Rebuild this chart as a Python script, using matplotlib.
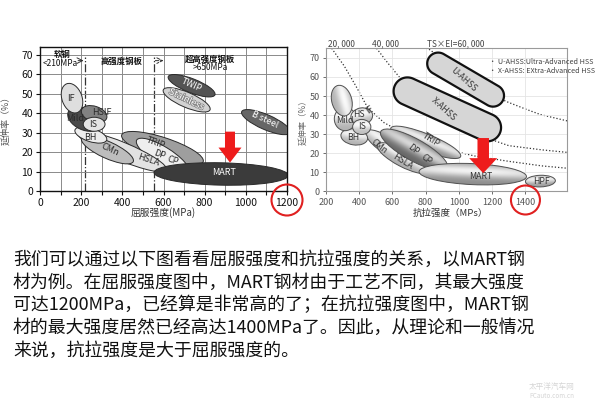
import numpy as np
import matplotlib
matplotlib.use('Agg')
import matplotlib.pyplot as plt
from matplotlib.patches import Ellipse, Circle, FancyArrow, PathPatch
from matplotlib.path import Path
from matplotlib.transforms import Affine2D
import matplotlib.patheffects as pe

plt.rcParams['font.family'] = ['Noto Sans CJK SC', 'DejaVu Sans']

# ---------------- yield-strength chart (left) ----------------
ys_names = ['TRIP', 'DP-CP', 'HSLA', 'CMn', 'MART', 'BH', 'Mild', 'HSIF', 'IF', 'IS', 'TWIP', 'Stainless', 'B steel']
ys_x1 = [397, 470, 186, 202, 554, 170, 138, 202, 130, 210, 623, 599, 980]
ys_y1 = [28.8, 26.2, 29.7, 27.1, 9.5, 31.4, 40.8, 41.7, 55.1, 34.3, 58.8, 52.0, 40.8]
ys_x2 = [793, 721, 615, 453, 1206, 324, 291, 324, 181, 316, 850, 826, 1215]
ys_y2 = [15.1, 9.9, 10.8, 15.1, 8.0, 26.2, 33.1, 37.4, 40.3, 34.3, 49.4, 41.7, 30.0]
ys_thick = [11.1, 9.4, 9.4, 8.6, 11.5, 6.9, 11.0, 8.0, 10.3, 7.2, 7.2, 7.7, 7.7]

ys_lab = ['IF', 'Mild', 'HSIF', 'IS', 'BH', 'CMn', 'TRIP', 'HSLA', 'DP', 'CP', 'MART', 'TWIP', 'Stainless', 'B steel']
ys_lab_x = [150, 170, 300, 259, 246, 340, 563, 526, 583, 645, 894, 737, 712, 1093]
ys_lab_y = [47.5, 37.5, 40.5, 34.3, 27.6, 21.0, 24.5, 16.0, 18.5, 15.6, 9.3, 54.5, 47.0, 36.5]

ys_xticks = [0, 200, 400, 600, 800, 1000, 1200]
ys_yticks = [0, 10, 20, 30, 40, 50, 60, 70]
ys_bounds = [220, 555]
ys_arrow = (923, 30.5, 14.6)

# ---------------- tensile-strength chart (right) ----------------
ts_names = ['CMn', 'HSLA', 'TRIP', 'DP-CP', 'MART', 'HPF', 'BH', 'Mild', 'IF', 'HSIF', 'IS']
ts_x1 = [440, 510, 590, 530, 760, 1400, 290, 250, 270, 350, 360]
ts_y1 = [31.5, 24.5, 33.2, 31.5, 10.4, 5.2, 29.7, 38.0, 55.5, 38.5, 33.8]
ts_x2 = [730, 820, 1010, 930, 1406, 1580, 450, 380, 320, 480, 470]
ts_y2 = [14.8, 10.4, 18.3, 12.2, 7.8, 5.7, 27.5, 38.0, 39.7, 40.3, 33.8]
ts_thick = [9.0, 9.0, 8.8, 11.5, 11.0, 6.1, 8.4, 12.3, 10.5, 8.8, 7.9]

ahss_names = ['X-AHSS', 'U-AHSS']
ahss_x1 = [690, 875]
ahss_y1 = [52.5, 67.0]
ahss_x2 = [1170, 1205]
ahss_y2 = [33.5, 50.2]
ahss_thick = [14.5, 11.5]

ts_lab = ['HS', 'IF', 'IS', 'BH', 'Mild', 'CMn', 'HSLA', 'DP', 'CP', 'TRIP', 'MART', 'HPF', 'X-AHSS', 'U-AHSS']
ts_lab_x = [400, 462, 414, 364, 312, 520, 662, 722, 806, 832, 1130, 1494, 910, 1030]
ts_lab_y = [40.3, 42.6, 34.0, 28.5, 37.3, 23.6, 15.7, 21.8, 17.0, 27.1, 7.8, 5.2, 43.0, 58.7]

curve_labels = ['20, 000', '40, 000', 'TS×EI=60, 000']
c20_x = [234, 310, 380, 450, 550, 700, 900, 1100, 1300, 1500, 1650]
c20_y = [75, 65.7, 55.2, 44.0, 36.0, 29.0, 22.5, 18.5, 15.8, 13.4, 12.2]
c40_x = [504, 570, 650, 800, 1000, 1200, 1300, 1500, 1650]
c40_y = [75, 67.5, 59.0, 47.0, 35.0, 27.0, 24.0, 21.8, 20.5]
c60_x = [820, 900, 1000, 1100, 1200, 1280, 1400, 1490, 1650]
c60_y = [74.5, 69.5, 63.5, 57.5, 51.5, 47.3, 43.2, 40.3, 37.0]

ts_xticks = [200, 400, 600, 800, 1000, 1200, 1400]
ts_yticks = [0, 10, 20, 30, 40, 50, 60, 70]
ts_arrow = (1146, 28.0, 9.6)

legend_lines = ['• U-AHSS:Ultra-Advanced HSS', '• X-AHSS: EXtra-Advanced HSS']

paragraph = [
    '我们可以通过以下图看看屈服强度和抗拉强度的关系，以MART钢',
    '材为例。在屈服强度图中，MART钢材由于工艺不同，其最大强度',
    '可达1200MPa，已经算是非常高的了；在抗拉强度图中，MART钢',
    '材的最大强度居然已经高达1400MPa了。因此，从理论和一般情况',
    '来说，抗拉强度是大于屈服强度的。',
]

# ---------------- styles ----------------
ys_fc = {'HSLA': '#e2e2e2', 'CMn': '#bdbdbd', 'TRIP': '#9e9e9e', 'DP-CP': '#eeeeee',
         'MART': '#3b3b3b', 'BH': '#ededed', 'Mild': '#4a4a4a', 'HSIF': '#828282',
         'IF': '#dedede', 'IS': '#e4e4e4', 'TWIP': '#545454', 'Stainless': '#d2d2d2',
         'B steel': '#666666'}
ys_rot = {'CMn': -25, 'TRIP': -20, 'HSLA': -18, 'DP': -20, 'CP': -20, 'TWIP': -24,
          'Stainless': -26, 'B steel': -25}
ys_white = {'MART', 'TWIP', 'Stainless', 'B steel'}
ts_shade = {'CMn': (0.70, 0.97), 'HSLA': (0.68, 0.96), 'TRIP': (0.55, 0.93), 'DP-CP': (0.40, 0.85),
            'MART': (0.55, 0.95), 'HPF': (0.62, 0.95), 'BH': (0.70, 0.97), 'Mild': (0.70, 0.98),
            'IF': (0.70, 0.98), 'HSIF': (0.72, 0.98), 'IS': (0.75, 0.99)}
ts_rot = {'IF': 35, 'CMn': -38, 'HSLA': -32, 'DP': -38, 'CP': -38, 'TRIP': -32,
          'X-AHSS': -42, 'U-AHSS': -42}

fig = plt.figure(figsize=(6.0, 4.01), dpi=100)
fig.patch.set_facecolor('white')
axL = fig.add_axes([40 / 600, 1 - 191 / 401, 247 / 600, 144 / 401])
axR = fig.add_axes([326 / 600, 1 - 191.5 / 401, 241 / 600, 143.2 / 401])
axL.set_xlim(0, 1200)
axL.set_ylim(0, 74)
axR.set_xlim(200, 1650)
axR.set_ylim(0, 75)
for a in (axL, axR):
    a.set_autoscale_on(False)


def px_transform(ax):
    return Affine2D().scale(1.0 / ax.bbox.width, 1.0 / ax.bbox.height) + ax.transAxes


def to_px(ax, x, y):
    p = ax.transData.transform((x, y))
    return np.array([p[0] - ax.bbox.x0, p[1] - ax.bbox.y0])


def geom(ax, x1, y1, x2, y2, thick):
    p1, p2 = to_px(ax, x1, y1), to_px(ax, x2, y2)
    d = p2 - p1
    lo, hi = ax.get_ylim()
    return p1, p2, (p1 + p2) / 2, np.hypot(*d), thick * ax.bbox.height / (hi - lo), \
        np.degrees(np.arctan2(d[1], d[0]))


def capsule_path(p1, p2, r, n=40):
    d = p2 - p1
    a = np.arctan2(d[1], d[0])
    a1 = np.linspace(a - np.pi / 2, a + np.pi / 2, n)
    a2 = np.linspace(a + np.pi / 2, a + 3 * np.pi / 2, n)
    pts = np.vstack([p2 + r * np.c_[np.cos(a1), np.sin(a1)],
                     p1 + r * np.c_[np.cos(a2), np.sin(a2)]])
    pts = np.vstack([pts, pts[:1]])
    return Path(pts, closed=True)


# ================= LEFT CHART =================
trL = px_transform(axL)
axL.set_xticks(ys_xticks)
axL.set_xticks(np.arange(0, 1201, 100), minor=True)
axL.set_yticks(ys_yticks)
axL.grid(True, which='both', axis='x', color='#8a8a8a', lw=0.7, zorder=0)
axL.grid(True, which='major', axis='y', color='#8a8a8a', lw=0.7, zorder=0)
axL.tick_params(which='both', direction='out', length=3, width=0.8, labelsize=7.5,
                colors='#111', pad=2)
for s in axL.spines.values():
    s.set_color('#111')
    s.set_linewidth(1.0)

for xb in ys_bounds:
    axL.plot([xb, xb], [0, 69], ls='-.', color='#333', lw=0.9, zorder=1)

for i, n in enumerate(ys_names):
    p1, p2, c, L, m, ang = geom(axL, ys_x1[i], ys_y1[i], ys_x2[i], ys_y2[i], ys_thick[i])
    axL.add_patch(Ellipse(c, L, m, angle=ang, transform=trL, fc=ys_fc[n], ec='#2a2a2a',
                          lw=0.7, zorder=2 + i * 0.1))

for i, t in enumerate(ys_lab):
    white = t in ys_white
    txt = axL.text(ys_lab_x[i], ys_lab_y[i], t, fontsize=6.5, rotation=ys_rot.get(t, 0),
                   ha='center', va='center', color='white' if white else '#2a2a2a',
                   zorder=5, rotation_mode='anchor')
    if t == 'Stainless':
        txt.set_path_effects([pe.withStroke(linewidth=1.2, foreground='#888')])

axL.text(107, 70, '软钢', fontsize=6, ha='center', va='center', color='#111', weight='bold', zorder=6)
axL.text(97, 65.7, '<210MPa', fontsize=6, ha='center', va='center', color='#111', zorder=6)
axL.text(397, 66.5, '高强度钢板', fontsize=6, ha='center', va='center', color='#111', weight='bold', zorder=6)
axL.text(826, 67.8, '超高强度钢板', fontsize=6, ha='center', va='center', color='#111', weight='bold', zorder=6)
axL.text(826, 63.7, '>650MPa', fontsize=6, ha='center', va='center', color='#111', zorder=6)
axL.annotate('', xy=(212, 67), xytext=(185, 67),
             arrowprops=dict(arrowstyle='->', lw=0.7, color='#333', shrinkA=0, shrinkB=0), zorder=6)
axL.annotate('', xy=(600, 67), xytext=(560, 67),
             arrowprops=dict(arrowstyle='->', lw=0.7, color='#333', ls='--', shrinkA=0, shrinkB=0), zorder=6)

ax_, yt_, yb_ = ys_arrow
pt, pb = to_px(axL, ax_, yt_), to_px(axL, ax_, yb_)
axL.add_patch(FancyArrow(pt[0], pt[1], 0, pb[1] - pt[1], width=10, head_width=23, head_length=15,
                         length_includes_head=True, transform=trL, color='#ee1c1c', lw=0, zorder=8))
cL = to_px(axL, 1200, 0) + np.array([0, -9])
axL.add_patch(Circle(cL, 15.5, transform=trL, fill=False, ec='#e02020', lw=1.5, clip_on=False, zorder=9))

fig.text(6 / 600, 1 - 118 / 401, '延伸率（%）', rotation=90, fontsize=6.5, color='#555',
         ha='center', va='center')
fig.text(163 / 600, 1 - 212.7 / 401, '屈服强度(MPa)', fontsize=7, color='#333',
         ha='center', va='center')

# ================= RIGHT CHART =================
trR = px_transform(axR)
axR.set_xticks(ts_xticks)
axR.set_yticks(ts_yticks)
axR.grid(True, color='#e4e4e4', lw=0.6, zorder=0)
axR.tick_params(direction='out', length=2.5, width=0.6, labelsize=6.5, colors='#555', pad=2)
for s in axR.spines.values():
    s.set_color('#9a9a9a')
    s.set_linewidth(0.8)

for cx, cy in ((c20_x, c20_y), (c40_x, c40_y), (c60_x, c60_y)):
    axR.plot(cx, cy, ls=(0, (1, 1.6)), color='#333', lw=0.9, zorder=1)
for lab, cx in zip(curve_labels, (c20_x, c40_x, c60_x)):
    off = 160 if lab.startswith('TS') else 56
    axR.text(cx[0] + off, 77.6, lab, fontsize=6, color='#444', ha='center', va='center', clip_on=False)

W, H = int(round(axR.bbox.width)), int(round(axR.bbox.height))
GX, GY = np.meshgrid(np.arange(W) + 0.5, np.arange(H) + 0.5)
for i, n in enumerate(ts_names):
    p1, p2, c, L, m, ang = geom(axR, ts_x1[i], ts_y1[i], ts_x2[i], ts_y2[i], ts_thick[i])
    z = 2 + i * 0.2
    e = Ellipse(c, L, m, angle=ang, transform=trR, fc='none', ec='#505050', lw=0.7, zorder=z + 0.1)
    axR.add_patch(e)
    th = np.radians(ang)
    u = (GX - c[0]) * np.cos(th) + (GY - c[1]) * np.sin(th)
    v = -(GX - c[0]) * np.sin(th) + (GY - c[1]) * np.cos(th)
    t = v / (m / 2)
    s = np.clip(u / (L / 2), -1, 1)
    lo, hi = ts_shade[n]
    g = lo + (hi - lo) * np.exp(-((t - 0.25) / 0.6) ** 2) * (1 - 0.2 * s ** 2)
    g = np.clip(g, 0, 1)
    rgba = np.dstack([g, g, g, np.ones_like(g)])
    im = axR.imshow(rgba, extent=(0, axR.bbox.width, 0, axR.bbox.height), origin='lower',
                    transform=trR, aspect='auto', interpolation='bilinear', zorder=z)
    im.set_clip_path(e)

for i, n in enumerate(ahss_names):
    p1, p2, c, L, m, ang = geom(axR, ahss_x1[i], ahss_y1[i], ahss_x2[i], ahss_y2[i], ahss_thick[i])
    path = capsule_path(p1, p2, m / 2)
    axR.add_patch(PathPatch(path, transform=trR, fc='#d6d6d6', ec='#111', lw=1.6, zorder=5))

for i, t in enumerate(ts_lab):
    axR.text(ts_lab_x[i], ts_lab_y[i], t, fontsize=6.3, rotation=ts_rot.get(t, 0),
             ha='center', va='center', color='#333', zorder=7, rotation_mode='anchor')

for k, line in enumerate(legend_lines):
    axR.text(1178, 67.8 - k * 4.8, line, fontsize=5.2, color='#444', ha='left', va='center', zorder=7)

ax_, yt_, yb_ = ts_arrow
pt, pb = to_px(axR, ax_, yt_), to_px(axR, ax_, yb_)
axR.add_patch(FancyArrow(pt[0], pt[1], 0, pb[1] - pt[1], width=11.5, head_width=28, head_length=15,
                         length_includes_head=True, transform=trR, color='#ee1c1c', lw=0, zorder=8))
cR = to_px(axR, 1400, 0) + np.array([0, -8.5])
axR.add_patch(Circle(cR, 14.5, transform=trR, fill=False, ec='#e02020', lw=1.5, clip_on=False, zorder=9))

fig.text(303 / 600, 1 - 120 / 401, '延伸率（%）', rotation=90, fontsize=6, color='#666',
         ha='center', va='center')
fig.text(450 / 600, 1 - 213 / 401, '抗拉强度（MPs）', fontsize=6.8, color='#333',
         ha='center', va='center')

# ================= paragraph =================
for k, line in enumerate(paragraph):
    fig.text(13 / 600, 1 - (260 + 22.6 * k) / 401, line, fontsize=12.9, color='#111',
             ha='left', va='center')

fig.text(552 / 600, 1 - 387 / 401, '太平洋汽车网', fontsize=5.5, color='#d5d5d5', ha='center', va='center')
fig.text(552 / 600, 1 - 396 / 401, 'PCauto.com.cn', fontsize=4.5, color='#d5d5d5', ha='center', va='center')

fig.savefig('out.png', dpi=100, facecolor='white')
